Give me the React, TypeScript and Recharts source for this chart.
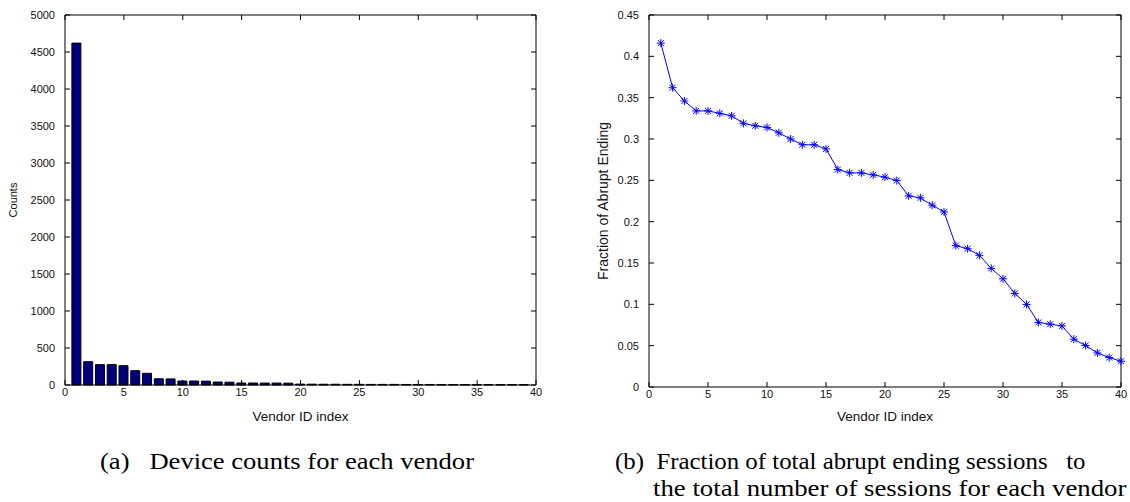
import React from 'react';
import { ComposedChart, Bar, LineChart, Line, XAxis, YAxis } from 'recharts';

// ---------- data ----------
const vendorIndex = [
  1, 2, 3, 4, 5, 6, 7, 8, 9, 10, 11, 12, 13, 14, 15, 16, 17, 18, 19, 20,
  21, 22, 23, 24, 25, 26, 27, 28, 29, 30, 31, 32, 33, 34, 35, 36, 37, 38, 39, 40,
];
const deviceCounts = [
  4620, 315, 275, 275, 261, 193, 158, 84, 82, 54, 54, 52, 40, 38, 27, 27, 26, 26, 25, 12,
  11, 10, 10, 9, 9, 8, 8, 8, 7, 7, 7, 6, 6, 6, 6, 5, 5, 5, 5,
];
const abruptFraction = [
  0.416, 0.362, 0.346, 0.334, 0.334, 0.331, 0.328, 0.319, 0.316, 0.314,
  0.3075, 0.300, 0.293, 0.293, 0.288, 0.263, 0.259, 0.259, 0.2566, 0.2538,
  0.2497, 0.2312, 0.2288, 0.2199, 0.2118, 0.171, 0.1673, 0.1593, 0.1435, 0.1309,
  0.1132, 0.0999, 0.0781, 0.076, 0.0739, 0.0578, 0.0502, 0.0412, 0.0356, 0.0312,
];
const xTicks = [0, 5, 10, 15, 20, 25, 30, 35, 40];
const countTicks = [0, 500, 1000, 1500, 2000, 2500, 3000, 3500, 4000, 4500, 5000];
const fractionTicks = [0, 0.05, 0.1, 0.15, 0.2, 0.25, 0.3, 0.35, 0.4, 0.45];

const barData = deviceCounts.map((c, i) => ({ x: vendorIndex[i], count: c }));
const lineData = abruptFraction.map((f, i) => ({ x: vendorIndex[i], frac: f }));

// ---------- styles ----------
const FONT = 'Arial, "Liberation Sans", Helvetica, sans-serif';
const tickStyle = { fontSize: 11, fontFamily: FONT, fill: '#111' };
const axisStroke = { stroke: '#000', strokeWidth: 1 };
const NoTick = () => null;

const Asterisk = (props: any) => {
  const { cx, cy } = props;
  if (cx == null || cy == null) return null;
  const r = 4;
  const d = 3;
  return (
    <g stroke="#0000ff" strokeWidth={1}>
      <line x1={cx - r} y1={cy} x2={cx + r} y2={cy} />
      <line x1={cx} y1={cy - r} x2={cx} y2={cy + r} />
      <line x1={cx - d} y1={cy - d} x2={cx + d} y2={cy + d} />
      <line x1={cx - d} y1={cy + d} x2={cx + d} y2={cy - d} />
    </g>
  );
};

const makeYLabel = (text: string, dx: number, size: number) => (props: any) => {
  const vb = props.viewBox || {};
  const x = vb.x + dx;
  const y = vb.y + vb.height / 2;
  return (
    <text
      x={x}
      y={y}
      transform={`rotate(-90 ${x} ${y})`}
      textAnchor="middle"
      dominantBaseline="central"
      fontSize={size}
      fontFamily={FONT}
      fill="#111"
    >
      {text}
    </text>
  );
};

const makeXLabel = (text: string, dy: number, size: number) => (props: any) => {
  const vb = props.viewBox || {};
  const x = vb.x + vb.width / 2;
  const y = vb.y + dy;
  return (
    <text x={x} y={y} textAnchor="middle" dominantBaseline="central" fontSize={size} fontFamily={FONT} fill="#111">
      {text}
    </text>
  );
};

const captionStyle: React.CSSProperties = {
  position: 'absolute',
  fontFamily: '"Liberation Serif", "Times New Roman", serif',
  fontSize: 24,
  whiteSpace: 'pre',
  color: '#000',
  lineHeight: 1,
  transformOrigin: 'left center',
};

const BoxAxes = (yDomain: number[], yTicks: number[]) => [
  <XAxis
    key="top"
    xAxisId="top"
    orientation="top"
    dataKey="x"
    type="number"
    domain={[0, 40]}
    ticks={xTicks}
    interval={0}
    height={1}
    tickSize={-5}
    axisLine={axisStroke}
    tickLine={axisStroke}
    tick={NoTick}
  />,
  <YAxis
    key="right"
    yAxisId="right"
    orientation="right"
    type="number"
    domain={yDomain}
    allowDataOverflow
    ticks={yTicks}
    interval={0}
    width={1}
    tickSize={-5}
    axisLine={axisStroke}
    tickLine={axisStroke}
    tick={NoTick}
  />,
];

export default function App() {
  return (
    <div
      style={{
        position: 'absolute',
        left: 0,
        top: 0,
        width: 1130,
        height: 502,
        background: '#fff',
        overflow: 'hidden',
      }}
    >
      <div style={{ position: 'absolute', left: 0, top: 0 }}>
        <ComposedChart width={560} height={430} data={barData} margin={{ top: 14, right: 23, bottom: 15, left: 0 }}>
          <XAxis
            dataKey="x"
            type="number"
            domain={[0, 40]}
            ticks={xTicks}
            interval={0}
            height={30}
            tickSize={-5}
            tickMargin={8}
            axisLine={axisStroke}
            tickLine={axisStroke}
            tick={tickStyle}
            label={makeXLabel('Vendor ID index', 31, 13.5)}
          />
          <YAxis
            type="number"
            domain={[0, 5000]}
            ticks={countTicks}
            interval={0}
            width={65}
            tickSize={-5}
            tickMargin={15}
            axisLine={axisStroke}
            tickLine={axisStroke}
            tick={tickStyle}
            label={makeYLabel('Counts', 13, 11)}
          />
          {BoxAxes([0, 5000], countTicks)}
          <Bar
            dataKey="count"
            fill="#00007f"
            stroke="#000"
            strokeWidth={1}
            barSize={9}
            isAnimationActive={false}
          />
          <Line
            xAxisId="top"
            yAxisId="right"
            dataKey="count"
            stroke="none"
            dot={false}
            activeDot={false}
            legendType="none"
            isAnimationActive={false}
          />
        </ComposedChart>
      </div>

      <div style={{ position: 'absolute', left: 590, top: 0 }}>
        <LineChart width={540} height={430} data={lineData} margin={{ top: 14, right: 8, bottom: 13, left: 0 }}>
          <XAxis
            dataKey="x"
            type="number"
            domain={[0, 40]}
            ticks={xTicks}
            interval={0}
            height={30}
            tickSize={-5}
            tickMargin={8}
            axisLine={axisStroke}
            tickLine={axisStroke}
            tick={tickStyle}
            label={makeXLabel('Vendor ID index', 29, 13.5)}
          />
          <YAxis
            type="number"
            domain={[0, 0.45]}
            ticks={fractionTicks}
            interval={0}
            width={59}
            tickSize={-5}
            tickMargin={15}
            axisLine={axisStroke}
            tickLine={axisStroke}
            tick={tickStyle}
            label={makeYLabel('Fraction of Abrupt Ending', 13, 14)}
          />
          {BoxAxes([0, 0.45], fractionTicks)}
          <Line
            xAxisId="top"
            yAxisId="right"
            dataKey="frac"
            stroke="none"
            dot={false}
            activeDot={false}
            legendType="none"
            isAnimationActive={false}
          />
          <Line
            dataKey="frac"
            stroke="#0000ff"
            strokeWidth={1}
            dot={Asterisk}
            activeDot={false}
            isAnimationActive={false}
          />
        </LineChart>
      </div>

      <div style={{ ...captionStyle, left: 100, top: 449, transform: 'scaleX(1.107)' }}>
        {'(a)   Device counts for each vendor'}
      </div>
      <div style={{ ...captionStyle, left: 615, top: 449, transform: 'scaleX(1.035)' }}>
        {'(b)  Fraction of total abrupt ending sessions   to'}
      </div>
      <div style={{ ...captionStyle, left: 653, top: 476, transform: 'scaleX(1.115)' }}>
        {'the total number of sessions for each vendor'}
      </div>
    </div>
  );
}
